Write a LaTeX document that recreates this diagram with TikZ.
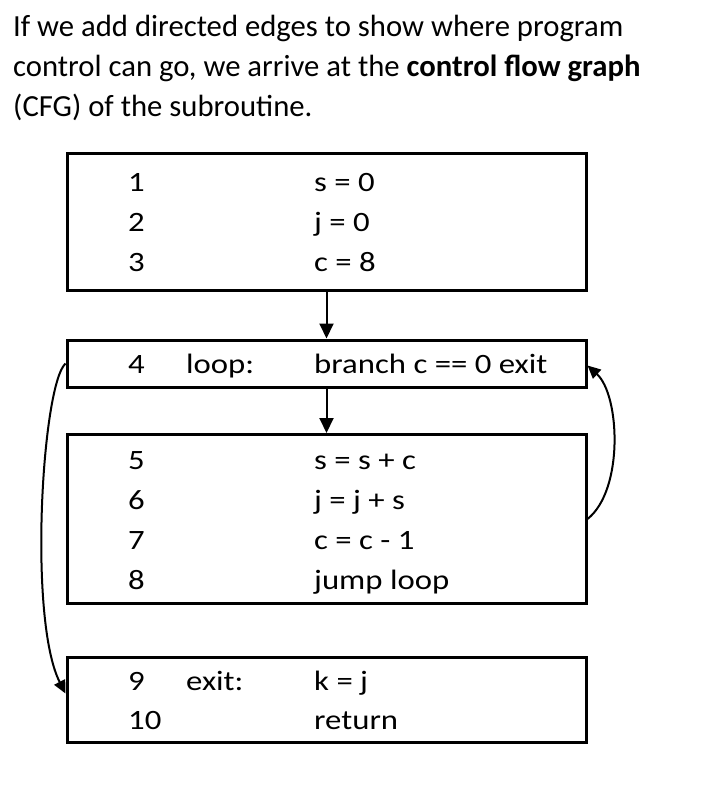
\documentclass[tikz,border=0pt]{standalone}
\usepackage{fontspec}
\setmainfont{Carlito}
\newfontfamily\boxfont[FakeStretch=1.17]{Carlito}
\newfontfamily\parafont{Carlito}
\usetikzlibrary{arrows.meta}
\tikzset{
  blk/.style={draw=black, line width=3pt, rectangle, inner sep=0pt},
  txt/.style={anchor=base west, inner sep=0pt, font=\boxfont\fontsize{28}{32}\selectfont},
  para/.style={anchor=base west, inner sep=0pt, font=\parafont\fontsize{30.7}{40}\selectfont},
  arr/.style={line width=2pt, -{Triangle[width=14pt,length=15pt]}},
  carr/.style={line width=2pt, -{Triangle[width=12pt,length=13pt]}}
}
\begin{document}
\begin{tikzpicture}[x=1pt,y=-1pt]
\useasboundingbox (0,0) rectangle (702,791);
% paragraph
\node[para] (p1) at (13,37) {If we add directed edges to show where program};
\node[para] (p2) at (13,77) {control can go, we arrive at the \textbf{control flow graph}};
\node[para] (p3) at (13,117) {(CFG) of the subroutine.};
% boxes
\node[blk, minimum width=519pt, minimum height=136pt] (b1) at (326.5,222) {};
\node[blk, minimum width=519pt, minimum height=47pt] (b2) at (326.5,363.5) {};
\node[blk, minimum width=519pt, minimum height=169pt] (b3) at (326.5,519) {};
\node[blk, minimum width=519pt, minimum height=85pt] (b4) at (326.5,699.5) {};
% box 1
\node[txt] (n1) at (128,192) {1};
\node[txt] (s1) at (314,192) {s = 0};
\node[txt] (n2) at (128,232) {2};
\node[txt] (s2) at (314,232) {j = 0};
\node[txt] (n3) at (128,271) {3};
\node[txt] (s3) at (314,271) {c = 8};
% box 2
\node[txt] (n4) at (128,373) {4};
\node[txt] (l4) at (186,373) {loop:};
\node[txt] (s4) at (314,373) {branch c == 0 exit};
% box 3
\node[txt] (n5) at (128,469) {5};
\node[txt] (s5) at (314,469) {s = s + c};
\node[txt] (n6) at (128,509) {6};
\node[txt] (s6) at (314,509) {j = j + s};
\node[txt] (n7) at (128,549) {7};
\node[txt] (s7) at (314,549) {c = c - 1};
\node[txt] (n8) at (128,589) {8};
\node[txt] (s8) at (314,589) {jump loop};
% box 4
\node[txt] (n9) at (128,690) {9};
\node[txt] (l9) at (186,690) {exit:};
\node[txt] (s9) at (314,690) {k = j};
\node[txt] (n10) at (128,729) {10};
\node[txt] (s10) at (314,729) {return};
% edges
\draw[arr] (b1.south) -- (b2.north);
\draw[arr] (b2.south) -- (b3.north);
\draw[carr] (b3.east) .. controls (624,490) and (620,395) .. ([yshift=-2pt]b2.east);
\draw[carr] (b2.west) .. controls (42,385) and (28,620) .. ([yshift=6pt]b4.west);
\end{tikzpicture}
\end{document}
